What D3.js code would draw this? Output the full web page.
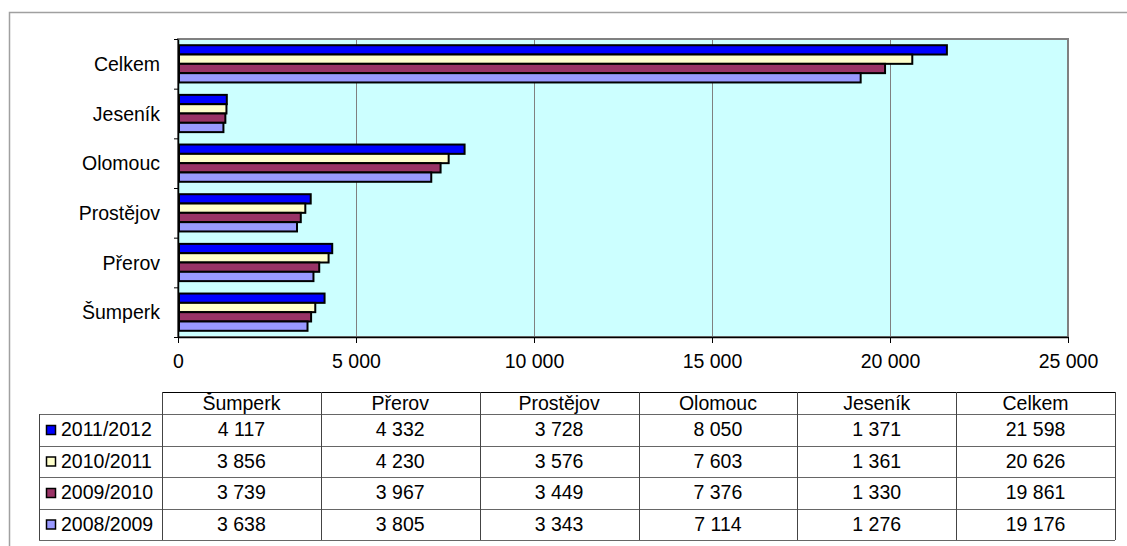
<!DOCTYPE html>
<html>
<head>
<meta charset="utf-8">
<script src="https://cdn.jsdelivr.net/npm/d3@7"></script>
<style>
  body { margin: 0; background: #fff; }
  svg { display: block; font-family: "Liberation Sans", Arial, sans-serif; }
</style>
</head>
<body>
<div id="chart"></div>
<script>
const WIDTH = 1127;
const HEIGHT = 546;
const PLOT = {left: 178, right: 1068, top: 39, bottom: 337};
const FONT = "19.5px";

// data (table order, left to right)
const CATEGORIES = ["Šumperk", "Přerov", "Prostějov", "Olomouc", "Jeseník", "Celkem"];
const SERIES = ["2011/2012", "2010/2011", "2009/2010", "2008/2009"];
const COLORS = ["#0000ff", "#ffffcc", "#993366", "#9999ff"];
const V_2011_2012 = [4117, 4332, 3728, 8050, 1371, 21598];
const V_2010_2011 = [3856, 4230, 3576, 7603, 1361, 20626];
const V_2009_2010 = [3739, 3967, 3449, 7376, 1330, 19861];
const V_2008_2009 = [3638, 3805, 3343, 7114, 1276, 19176];
const X_TICKS = [0, 5000, 10000, 15000, 20000, 25000];

const VALUES = [V_2011_2012, V_2010_2011, V_2009_2010, V_2008_2009];

const fmt = d3.formatLocale({decimal: ",", thousands: " ", grouping: [3], currency: ["", ""]}).format(",d");

const svg = d3.select("#chart").append("svg")
    .attr("width", WIDTH)
    .attr("height", HEIGHT);

// outer frame
svg.append("path")
    .attr("d", "M9.5," + HEIGHT + "V12.5H" + WIDTH)
    .attr("fill", "none")
    .attr("stroke", "#a0a0a0")
    .attr("stroke-width", 1.5);

// scales
const X_SCALE = d3.scaleLinear()
    .domain([0, 25000])
    .range([PLOT.left, PLOT.right]);

// Celkem at the top
const Y_SCALE = d3.scaleBand()
    .domain(CATEGORIES.slice().reverse())
    .range([PLOT.top, PLOT.bottom])
    .paddingInner(0.25)
    .paddingOuter(0.125);

const Y_INNER = d3.scaleBand()
    .domain(SERIES)
    .range([0, Y_SCALE.bandwidth()]);

const COLOR_SCALE = d3.scaleOrdinal().domain(SERIES).range(COLORS);

// plot background
svg.append("rect")
    .attr("x", PLOT.left)
    .attr("y", PLOT.top)
    .attr("width", PLOT.right - PLOT.left)
    .attr("height", PLOT.bottom - PLOT.top)
    .attr("fill", "#ccffff")
    .attr("stroke", "#808080")
    .attr("stroke-width", 2);

// gridlines
svg.append("g")
    .selectAll("line")
    .data(X_TICKS.slice(1, -1))
    .enter()
    .append("line")
        .attr("x1", (d) => Math.round(X_SCALE(d)) + 0.5)
        .attr("x2", (d) => Math.round(X_SCALE(d)) + 0.5)
        .attr("y1", PLOT.top)
        .attr("y2", PLOT.bottom)
        .attr("stroke", "#808080")
        .attr("stroke-width", 1);

// bars
const rows = [];
SERIES.forEach((s, i) => {
    CATEGORIES.forEach((c, j) => {
        rows.push({series: s, cat: c, value: VALUES[i][j]});
    });
});

svg.append("g")
    .selectAll("rect")
    .data(rows)
    .enter()
    .append("rect")
        .attr("x", X_SCALE(0) + 1)
        .attr("y", (d) => Y_SCALE(d.cat) + Y_INNER(d.series))
        .attr("width", (d) => X_SCALE(d.value) - X_SCALE(0) - 1)
        .attr("height", Y_INNER.bandwidth())
        .attr("fill", (d) => COLOR_SCALE(d.series))
        .attr("stroke", "#000")
        .attr("stroke-width", 2);

// x axis
const xAxis = svg.append("g")
    .attr("transform", "translate(0," + PLOT.bottom + ")")
    .call(d3.axisBottom(X_SCALE)
        .tickValues(X_TICKS)
        .tickFormat(fmt)
        .tickSizeInner(6)
        .tickSizeOuter(0)
        .tickPadding(11));
xAxis.select(".domain").attr("stroke", "#000").attr("stroke-width", 1.5);
xAxis.selectAll(".tick line").attr("stroke", "#000");
xAxis.selectAll("text")
    .attr("font-size", FONT)
    .attr("font-family", "'Liberation Sans', Arial, sans-serif")
    .attr("fill", "#000");

// y axis: boundary ticks
const Y_BOUNDS = d3.scaleLinear().domain([0, CATEGORIES.length]).range([PLOT.top, PLOT.bottom]);
const yAxis = svg.append("g")
    .attr("transform", "translate(" + PLOT.left + ",0)")
    .call(d3.axisLeft(Y_BOUNDS)
        .tickValues(d3.range(CATEGORIES.length + 1))
        .tickFormat("")
        .tickSizeInner(4)
        .tickSizeOuter(0));
yAxis.select(".domain").attr("stroke", "#000").attr("stroke-width", 1.5);
yAxis.selectAll(".tick line").attr("stroke", "#000");

// y labels
svg.append("g")
    .selectAll("text")
    .data(CATEGORIES)
    .enter()
    .append("text")
        .attr("x", PLOT.left - 18)
        .attr("y", (d) => Y_SCALE(d) + Y_SCALE.bandwidth() / 2 + 7)
        .attr("text-anchor", "end")
        .attr("font-size", FONT)
        .attr("fill", "#000")
        .text((d) => d);

// data table
const TABLE = {legendLeft: 39, left: 162, right: 1115, headTop: 392, headBottom: 414, rowH: 31.5};
const COL_X = d3.scaleBand()
    .domain(CATEGORIES)
    .range([TABLE.left, TABLE.right]);
const ROW_Y = d3.scaleBand()
    .domain(SERIES)
    .range([TABLE.headBottom, TABLE.headBottom + TABLE.rowH * SERIES.length]);
const tableBottom = TABLE.headBottom + TABLE.rowH * SERIES.length;

const table = svg.append("g");

// horizontal lines
table.append("line")
    .attr("x1", TABLE.left).attr("x2", TABLE.right)
    .attr("y1", TABLE.headTop + 0.5).attr("y2", TABLE.headTop + 0.5)
    .attr("stroke", "#000");
[TABLE.headBottom].concat(SERIES.map((s) => ROW_Y(s) + TABLE.rowH)).forEach((y) => {
    table.append("line")
        .attr("x1", TABLE.legendLeft).attr("x2", TABLE.right)
        .attr("y1", Math.round(y) + 0.5).attr("y2", Math.round(y) + 0.5)
        .attr("stroke", "#666");
});

// vertical lines
table.append("line")
    .attr("x1", TABLE.legendLeft + 0.5).attr("x2", TABLE.legendLeft + 0.5)
    .attr("y1", TABLE.headBottom).attr("y2", tableBottom)
    .attr("stroke", "#444");
CATEGORIES.map((c) => COL_X(c)).concat([TABLE.right]).forEach((x) => {
    table.append("line")
        .attr("x1", Math.round(x) + 0.5).attr("x2", Math.round(x) + 0.5)
        .attr("y1", TABLE.headTop).attr("y2", tableBottom)
        .attr("stroke", "#444");
});

// header
table.selectAll("text.head")
    .data(CATEGORIES)
    .enter()
    .append("text")
        .attr("class", "head")
        .attr("x", (d) => COL_X(d) + COL_X.bandwidth() / 2)
        .attr("y", TABLE.headBottom - 4)
        .attr("text-anchor", "middle")
        .attr("font-size", FONT)
        .text((d) => d);

// legend keys + row labels
SERIES.forEach((s, i) => {
    const y = ROW_Y(s);
    table.append("rect")
        .attr("x", 46.5)
        .attr("y", y + 11.5)
        .attr("width", 9)
        .attr("height", 9)
        .attr("fill", COLORS[i])
        .attr("stroke", "#000")
        .attr("stroke-width", 1.5);
    table.append("text")
        .attr("x", 61)
        .attr("y", y + 22)
        .attr("font-size", FONT)
        .text(s);
    table.selectAll("text.v" + i)
        .data(VALUES[i])
        .enter()
        .append("text")
            .attr("class", "v" + i)
            .attr("x", (d, j) => COL_X(CATEGORIES[j]) + COL_X.bandwidth() / 2)
            .attr("y", y + 22)
            .attr("text-anchor", "middle")
            .attr("font-size", FONT)
            .text((d) => fmt(d));
});
</script>
</body>
</html>
